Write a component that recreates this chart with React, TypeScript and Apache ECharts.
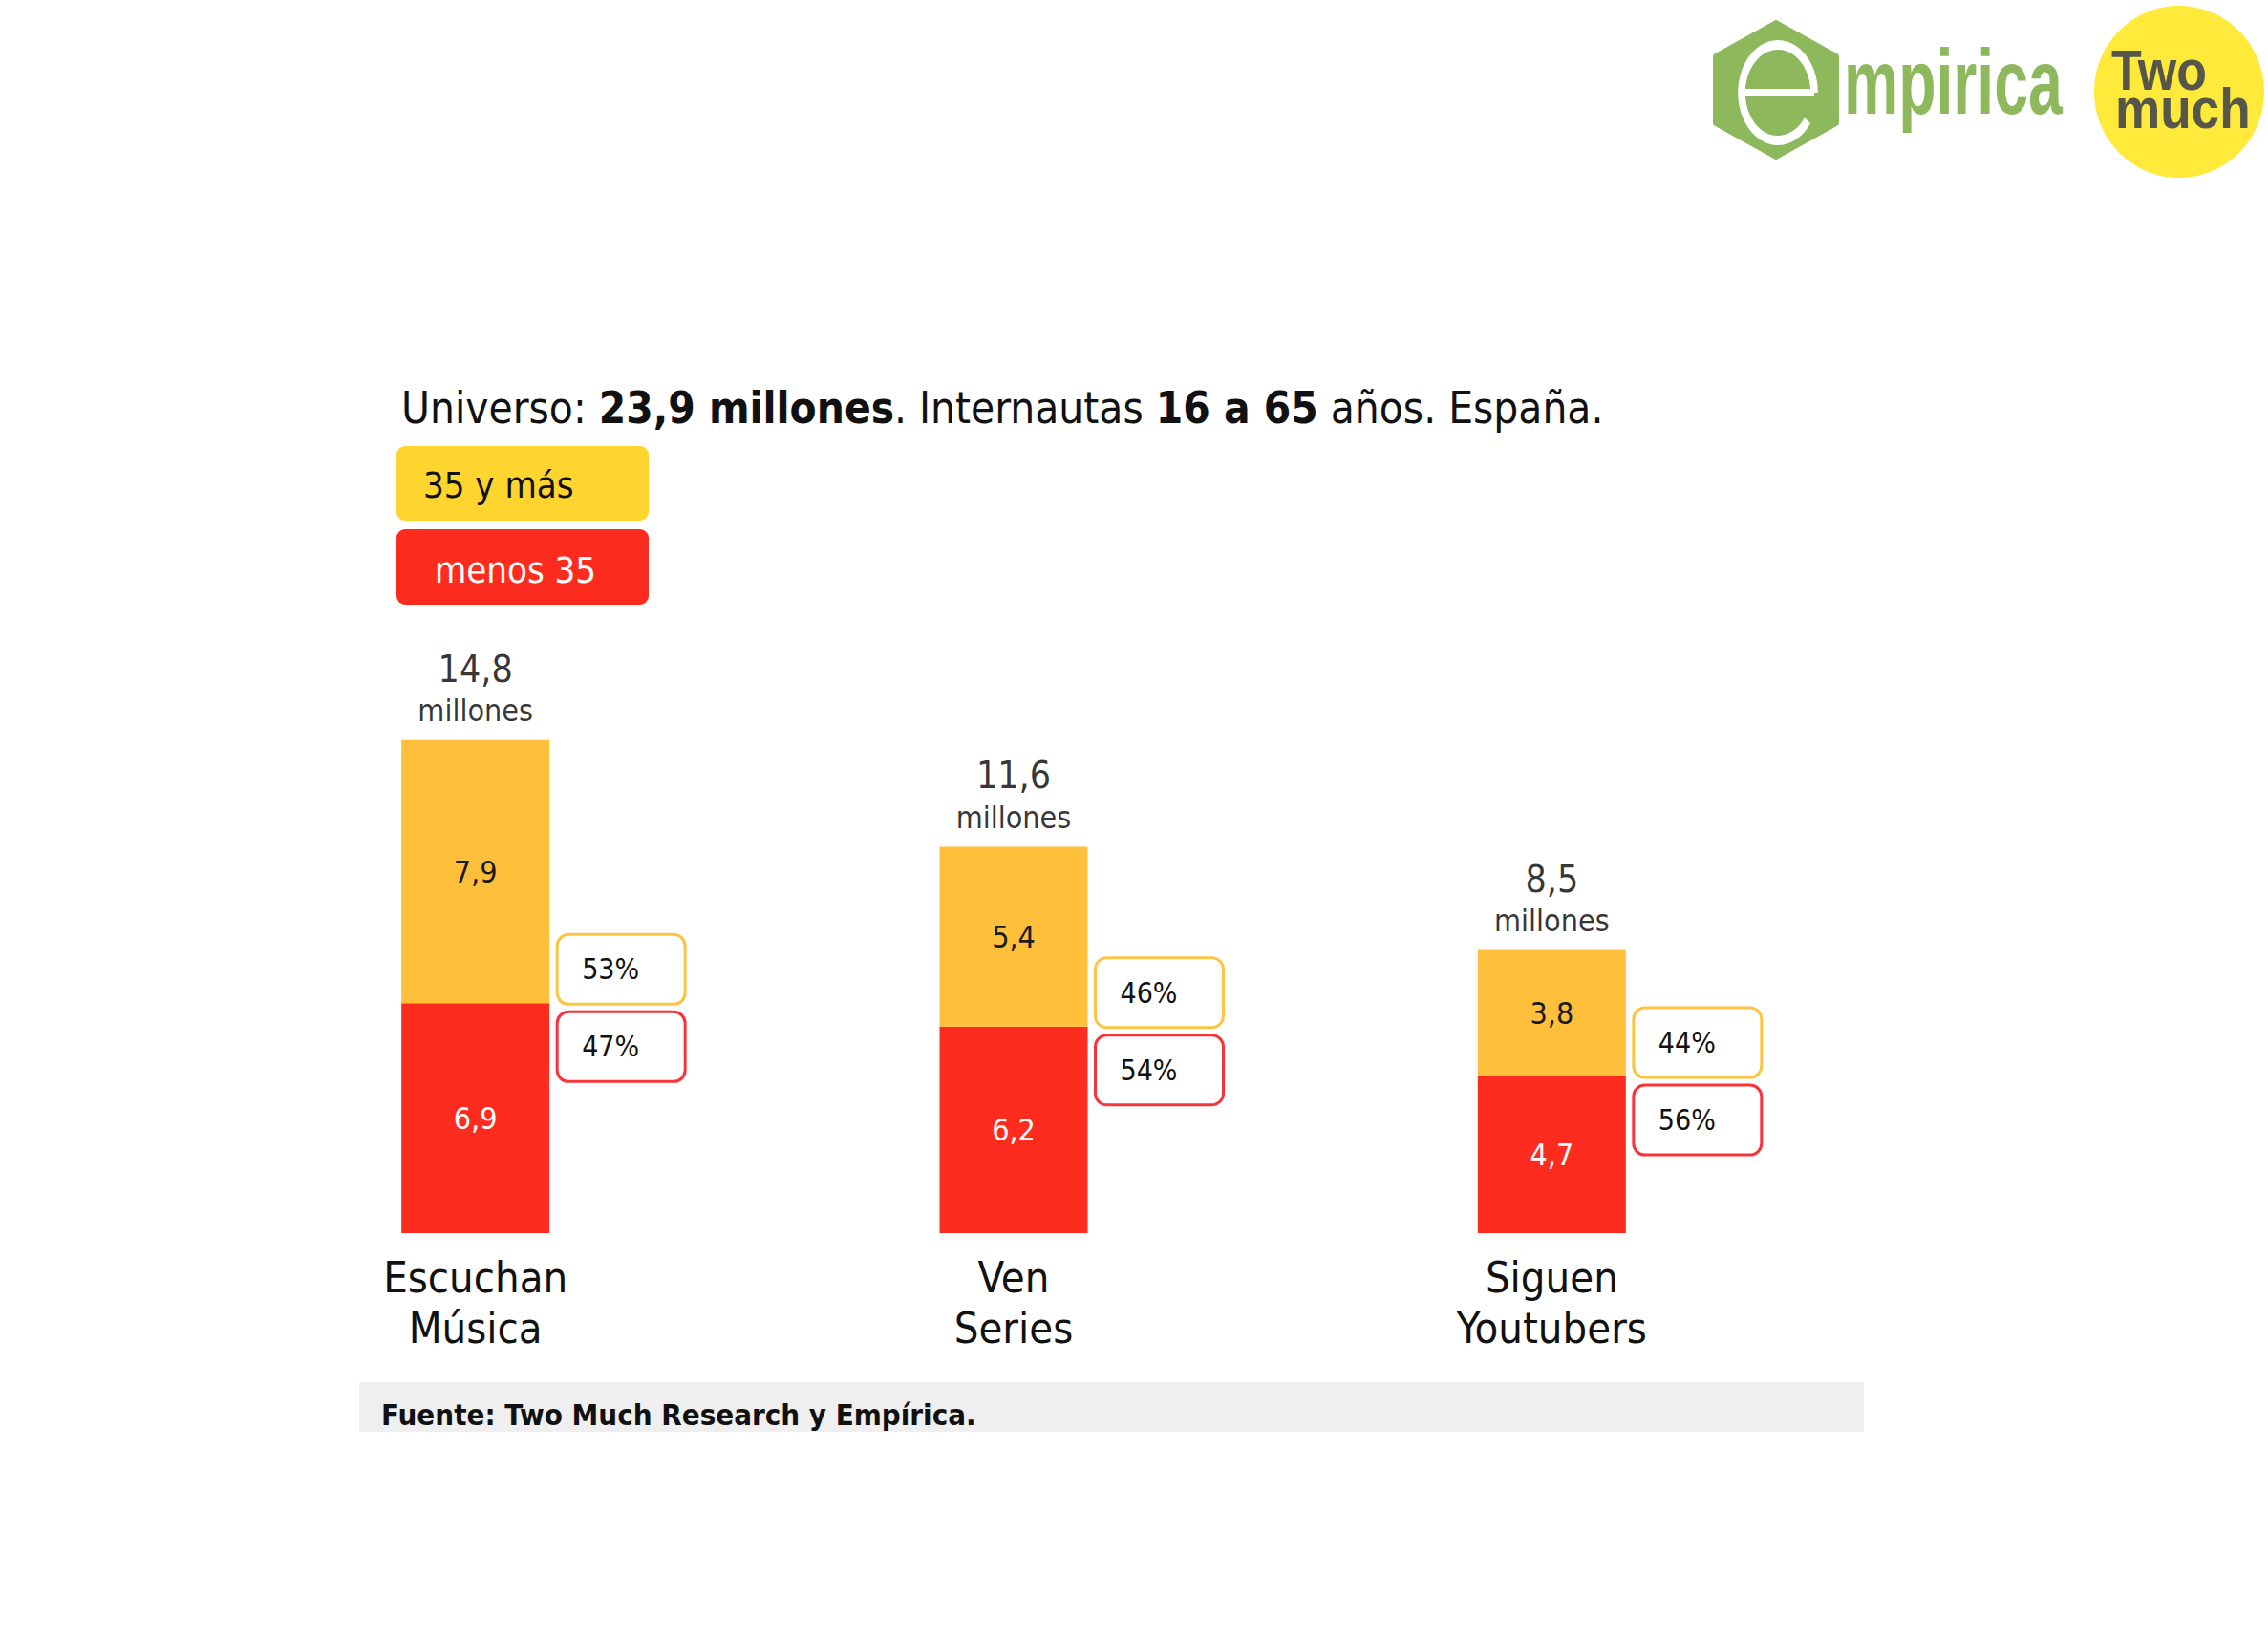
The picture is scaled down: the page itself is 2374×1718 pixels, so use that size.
import React, { useEffect, useRef } from "react";
import * as echarts from "echarts";

const categories = ["Escuchan\nMúsica", "Ven\nSeries", "Siguen\nYoutubers"];
const over35 = [7.9, 5.4, 3.8];
const under35 = [6.9, 6.2, 4.7];
const pctOver35 = [53, 46, 44];
const pctUnder35 = [47, 54, 56];
const legendLabels = ["35 y más", "menos 35"];
const totalUnit = "millones";
const sourceText = "Fuente: Two Much Research y Empírica.";

const totals = over35.map((v, i) => Math.round((v + under35[i]) * 10) / 10);
const fmt = (v: number) => v.toFixed(1).replace(".", ",");

const FONT = "'DejaVu Sans Condensed', 'DejaVu Sans', sans-serif";
const YELLOW = "#FEC03B";
const RED = "#FE2B1F";
const LEG_YELLOW = "#FED42E";
const BOX_YELLOW = "#FDC443";
const BOX_RED = "#F6343A";
const GREEN = "#8DB95C";
const BAR_W = 155;

export default function App() {
  const ref = useRef<HTMLDivElement>(null);
  useEffect(() => {
    if (!ref.current) return;
    const chart = echarts.init(ref.current, undefined, { renderer: "svg" });
    const cx = 1859;
    const cy = 94;
    const r = 70;
    const hw = 63;
    const hex = [
      [cx, cy - r],
      [cx + hw, cy - r / 2],
      [cx + hw, cy + r / 2],
      [cx, cy + r],
      [cx - hw, cy + r / 2],
      [cx - hw, cy - r / 2],
    ];
    chart.setOption({
      animation: false,
      backgroundColor: "#ffffff",
      grid: { left: 216, right: 468, top: 733, bottom: 427 },
      xAxis: {
        type: "category",
        data: categories,
        axisLine: { show: false },
        axisTick: { show: false },
        axisLabel: {
          fontSize: 45,
          lineHeight: 53,
          margin: 20,
          color: "#111",
          fontFamily: FONT,
        },
      },
      yAxis: { type: "value", min: 0, max: 16, show: false },
      series: [
        {
          type: "bar",
          name: legendLabels[1],
          stack: "t",
          data: under35,
          barWidth: BAR_W,
          itemStyle: { color: RED },
          label: {
            show: true,
            position: "inside",
            formatter: (p: any) => fmt(p.value),
            color: "#fff",
            fontSize: 32,
            fontFamily: FONT,
          },
        },
        {
          type: "bar",
          name: legendLabels[0],
          stack: "t",
          data: over35,
          barWidth: BAR_W,
          itemStyle: { color: YELLOW },
          label: {
            show: true,
            position: "inside",
            formatter: (p: any) => fmt(p.value),
            color: "#1a1a1a",
            fontSize: 32,
            fontFamily: FONT,
          },
        },
        {
          type: "scatter",
          data: totals,
          symbolSize: 1,
          itemStyle: { color: "rgba(0,0,0,0)" },
          label: {
            show: true,
            position: "top",
            distance: 12,
            formatter: (p: any) => `{a|${fmt(p.value)}}\n{b|${totalUnit}}`,
            rich: {
              a: { fontSize: 39, lineHeight: 52, color: "#000", fontFamily: FONT },
              b: { fontSize: 32, lineHeight: 36, color: "#000", fontFamily: FONT },
            },
          },
        },
        {
          type: "custom",
          data: under35.map((v, i) => [i, v]),
          encode: { x: 0, y: 1 },
          clip: false,
          z: 10,
          renderItem: (params: any, api: any) => {
            const i = params.dataIndex;
            const pt = api.coord([api.value(0), api.value(1)]);
            const x0 = pt[0] + BAR_W / 2 + 8;
            const w = 134;
            const h = 73;
            const y1 = pt[1] - 72;
            const y2 = pt[1] + 9;
            const txt = (t: string, y: number) => ({
              type: "text",
              style: {
                text: t,
                x: x0 + 56,
                y,
                align: "center",
                verticalAlign: "middle",
                textAlign: "center",
                textVerticalAlign: "middle",
                fontSize: 30,
                fontFamily: FONT,
                fill: "#111",
              },
            });
            return {
              type: "group",
              children: [
                {
                  type: "rect",
                  shape: { x: x0, y: y1, width: w, height: h, r: 12 },
                  style: { fill: "#fff", stroke: BOX_YELLOW, lineWidth: 3 },
                },
                txt(pctOver35[i] + "%", y1 + h / 2),
                {
                  type: "rect",
                  shape: { x: x0, y: y2, width: w, height: h, r: 12 },
                  style: { fill: "#fff", stroke: BOX_RED, lineWidth: 3 },
                },
                txt(pctUnder35[i] + "%", y2 + h / 2),
              ],
            };
          },
        },
      ],
      graphic: [
        {
          type: "text",
          x: 420,
          y: 427,
          style: {
            text:
              "{n|Universo: }{b|23,9 millones}{n|. Internautas }{b|16 a 65}{n| años. España.}",
            verticalAlign: "middle",
            textVerticalAlign: "middle",
            rich: {
              n: { fontSize: 45.5, fontFamily: FONT, fill: "#111" },
              b: { fontSize: 45.5, fontFamily: FONT, fontWeight: "bold", fill: "#111" },
            },
          },
        },
        {
          type: "rect",
          shape: { x: 415, y: 467, width: 264, height: 78, r: 9 },
          style: { fill: LEG_YELLOW },
        },
        {
          type: "text",
          x: 443,
          y: 508,
          style: {
            text: legendLabels[0],
            verticalAlign: "middle",
            textVerticalAlign: "middle",
            fontSize: 38,
            fontFamily: FONT,
            fill: "#111",
          },
        },
        {
          type: "rect",
          shape: { x: 415, y: 554, width: 264, height: 79, r: 9 },
          style: { fill: RED },
        },
        {
          type: "text",
          x: 455,
          y: 597,
          style: {
            text: legendLabels[1],
            verticalAlign: "middle",
            textVerticalAlign: "middle",
            fontSize: 38,
            fontFamily: FONT,
            fill: "#fff",
          },
        },
        {
          type: "rect",
          shape: { x: 376, y: 1447, width: 1575, height: 52 },
          style: { fill: "#EFEFEF" },
        },
        {
          type: "text",
          x: 399,
          y: 1481,
          style: {
            text: sourceText,
            verticalAlign: "middle",
            textVerticalAlign: "middle",
            fontSize: 31,
            fontWeight: "bold",
            fontFamily: FONT,
            fill: "#111",
          },
        },
        {
          type: "polygon",
          shape: { points: hex, smooth: 0 },
          style: { fill: GREEN, stroke: GREEN, lineWidth: 6, lineJoin: "round" },
        },
        {
          type: "arc",
          x: 1861,
          y: 97,
          scaleX: 0.76,
          shape: { cx: 0, cy: 0, r: 50, startAngle: 0, endAngle: 0.62, clockwise: false },
          style: { stroke: "#fff", lineWidth: 10, fill: null },
        },
        {
          type: "line",
          shape: { x1: 1823, y1: 97, x2: 1899, y2: 97 },
          style: { stroke: "#fff", lineWidth: 8 },
        },
        {
          type: "text",
          x: 1930,
          y: 86,
          scaleX: 0.67,
          style: {
            text: "mpirica",
            verticalAlign: "middle",
            textVerticalAlign: "middle",
            fontSize: 96,
            fontWeight: "bold",
            fontFamily: "'Liberation Sans', sans-serif",
            fill: GREEN,
          },
        },
        {
          type: "ellipse",
          shape: { cx: 2281, cy: 96, rx: 89, ry: 90 },
          style: { fill: "#FFE93A" },
        },
        {
          type: "text",
          x: 2210,
          y: 74,
          scaleX: 0.88,
          style: {
            text: "Two",
            verticalAlign: "middle",
            textVerticalAlign: "middle",
            fontSize: 59,
            fontWeight: "bold",
            fontFamily: "'Liberation Sans', sans-serif",
            fill: "#56564A",
          },
        },
        {
          type: "text",
          x: 2214,
          y: 114,
          scaleX: 0.9,
          style: {
            text: "much",
            verticalAlign: "middle",
            textVerticalAlign: "middle",
            fontSize: 59,
            fontWeight: "bold",
            fontFamily: "'Liberation Sans', sans-serif",
            fill: "#56564A",
          },
        },
      ],
    });
    return () => chart.dispose();
  }, []);
  return (
    <div
      ref={ref}
      style={{ position: "absolute", left: 0, top: 0, width: 2374, height: 1718, background: "#fff" }}
    />
  );
}
